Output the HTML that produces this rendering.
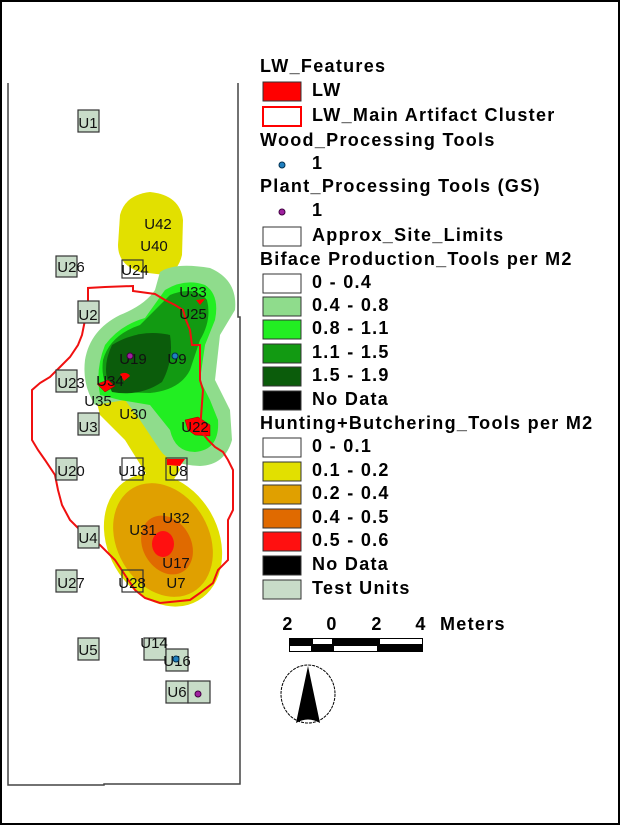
<!DOCTYPE html>
<html><head><meta charset="utf-8"><style>
html,body{margin:0;padding:0;background:#fff}
svg{display:block}
text{font-family:"Liberation Sans",Arial,sans-serif}
.lg{font-size:18px;font-weight:bold;fill:#000;letter-spacing:1.3px}
.u{font-size:15px;fill:#111}
</style></head><body>
<svg width="620" height="825" viewBox="0 0 620 825" xmlns="http://www.w3.org/2000/svg">
<rect x="1" y="1" width="618" height="823" fill="#fff" stroke="#000" stroke-width="2"/>
<path d="M8 83 V785 H104 V784 H240 V317 H238 V83" fill="none" stroke="#444" stroke-width="1.5"/>

<path d="M95 395 Q110 380 135 390 L160 430 L180 470 L170 485 L150 480 L125 440 L100 415 Z" fill="#e2e000"/>
<path d="M120 215 Q125 195 150 192 Q180 195 183 220 L182 255 Q178 272 165 275 L140 272 Q118 265 118 245 Z" fill="#e2e000"/>
<path d="M160 272 Q175 262 210 268 Q238 280 235 310 L220 335 L215 380 L230 410 L232 440 Q225 465 200 466 Q170 465 160 450 L140 420 L125 400 L95 405 Q82 385 85 360 Q90 330 120 315 Q145 305 155 290 Z" fill="#8fdc8c"/>
<path d="M165 290 Q185 278 205 285 Q220 295 215 320 L205 345 L200 380 L210 400 L218 420 Q220 450 195 452 Q175 452 170 430 L150 405 L120 400 L100 395 Q95 370 105 345 Q120 325 145 318 Z" fill="#22ee22"/>
<path d="M170 295 Q195 285 207 300 Q212 320 200 340 L190 370 Q180 390 150 393 L115 392 Q100 385 103 360 Q110 335 140 325 Z" fill="#129a12"/>
<path d="M178 420 Q195 408 208 420 L210 440 L185 445 Z" fill="#22ee22"/>
<path d="M112 345 Q140 328 170 335 Q174 360 162 382 Q140 397 112 392 Q100 370 112 345 Z" fill="#0b5c0b"/>

<ellipse cx="163" cy="540" rx="55" ry="70" transform="rotate(-30 163 540)" fill="#e2e000"/>
<ellipse cx="163" cy="540" rx="46" ry="60" transform="rotate(-30 163 540)" fill="#e0a000"/>
<ellipse cx="167" cy="545" rx="24" ry="31" transform="rotate(-30 167 545)" fill="#e06a00"/>
<ellipse cx="163" cy="544" rx="11" ry="13" fill="#ff1010"/>

<path d="M97 384 L108 380 L115 386 L105 392 Z" fill="#f00" stroke="#900" stroke-width=".5"/>
<path d="M120 374 Q127 371 130 376 L124 381 Z" fill="#f00"/>
<path d="M185 420 L198 417 L210 425 L210 436 L195 435 L188 430 Z" fill="#f00" stroke="#900" stroke-width=".5"/>
<path d="M196 300 L205 299 L200 305 Z" fill="#f00"/>
<path d="M58 460 L70 461 L78 468 L65 470 Z" fill="#f00"/>
<path d="M167 459 L185 459 L180 466 L167 465 Z" fill="#f00"/>

<path d="M88 293 L88 288 L105 287 L133 286 L133 291 L155 294 L165 300 L175 305 L183 310 L186 320 L190 330 L192 345 L200 345 L200 380 L203 390 L200 430 L208 440 L215 447 L223 452 L228 460 L233 470 L233 510 L228 520 L228 560 L218 570 L213 583 L200 593 L190 600 L160 603 L145 598 L135 590 L125 575 L115 560 L100 545 L90 538 L80 530 L70 520 L62 505 L58 490 L55 475 L45 460 L38 450 L32 440 L32 390 L40 383 L50 377 L60 367 L70 357 L78 345 L82 335 L85 320 L88 310 Z" fill="none" stroke="#f01010" stroke-width="2"/>

<g fill="#c8dcc8" stroke="#333" stroke-width="1.2">
<rect x="78" y="110" width="21" height="22"/>
<rect x="56" y="256" width="21" height="21"/>
<rect x="122" y="260" width="21" height="18" fill="none"/>
<rect x="78" y="301" width="21" height="22"/>
<rect x="56" y="370" width="21" height="22"/>
<rect x="78" y="413" width="21" height="22"/>
<rect x="56" y="458" width="21" height="22"/>
<rect x="122" y="458" width="21" height="22" fill="none"/>
<rect x="166" y="458" width="21" height="22" fill="none"/>
<rect x="78" y="526" width="21" height="22"/>
<rect x="56" y="570" width="21" height="22"/>
<rect x="122" y="570" width="21" height="22" fill="none"/>
<rect x="78" y="638" width="21" height="22"/>
<rect x="144" y="638" width="22" height="22"/>
<rect x="166" y="649" width="22" height="22"/>
<rect x="166" y="681" width="22" height="22"/>
<rect x="188" y="681" width="22" height="22"/>
</g>
<g class="u" text-anchor="middle">
<text x="88" y="128">U1</text>
<text x="71" y="272">U26</text>
<text x="135" y="275">U24</text>
<text x="88" y="320">U2</text>
<text x="71" y="388">U23</text>
<text x="88" y="432">U3</text>
<text x="71" y="476">U20</text>
<text x="132" y="476">U18</text>
<text x="178" y="476">U8</text>
<text x="88" y="543">U4</text>
<text x="71" y="588">U27</text>
<text x="132" y="588">U28</text>
<text x="88" y="655">U5</text>
<text x="154" y="648">U14</text>
<text x="177" y="666">U16</text>
<text x="177" y="697">U6</text>
<text x="158" y="229">U42</text>
<text x="154" y="251">U40</text>
<text x="193" y="297">U33</text>
<text x="193" y="319">U25</text>
<text x="133" y="364">U19</text>
<text x="177" y="364">U9</text>
<text x="110" y="386">U34</text>
<text x="98" y="406">U35</text>
<text x="133" y="419">U30</text>
<text x="195" y="432">U22</text>
<text x="143" y="535">U31</text>
<text x="176" y="523">U32</text>
<text x="176" y="568">U17</text>
<text x="176" y="588">U7</text>
</g>
<circle cx="130" cy="356" r="3" fill="#a020a0" stroke="#400040"/>
<circle cx="175" cy="356" r="3" fill="#2080c0" stroke="#003050"/>
<circle cx="176" cy="659" r="3" fill="#2080c0" stroke="#003050"/>
<circle cx="198" cy="694" r="3" fill="#a020a0" stroke="#400040"/>

<g class="lg">
<text x="260" y="72">LW_Features</text>
<text x="312" y="96">LW</text>
<text x="312" y="121">LW_Main Artifact Cluster</text>
<text x="260" y="146">Wood_Processing Tools</text>
<text x="312" y="169">1</text>
<text x="260" y="192">Plant_Processing Tools (GS)</text>
<text x="312" y="216">1</text>
<text x="312" y="241">Approx_Site_Limits</text>
<text x="260" y="265">Biface Production_Tools per M2</text>
<text x="312" y="288">0 - 0.4</text>
<text x="312" y="311">0.4 - 0.8</text>
<text x="312" y="334">0.8 - 1.1</text>
<text x="312" y="358">1.1 - 1.5</text>
<text x="312" y="381">1.5 - 1.9</text>
<text x="312" y="405">No Data</text>
<text x="260" y="429">Hunting+Butchering_Tools per M2</text>
<text x="312" y="452">0 - 0.1</text>
<text x="312" y="476">0.1 - 0.2</text>
<text x="312" y="499">0.2 - 0.4</text>
<text x="312" y="523">0.4 - 0.5</text>
<text x="312" y="546">0.5 - 0.6</text>
<text x="312" y="570">No Data</text>
<text x="312" y="594">Test Units</text>
</g>
<g stroke="#333" stroke-width="1">
<rect x="263" y="82" width="38" height="19" fill="#f00"/>
<rect x="263" y="107" width="38" height="19" fill="#fff" stroke="#f00" stroke-width="2"/>
<rect x="263" y="227" width="38" height="19" fill="#fff"/>
<rect x="263" y="274" width="38" height="19" fill="#fff"/>
<rect x="263" y="297" width="38" height="19" fill="#8fdc8c"/>
<rect x="263" y="320" width="38" height="19" fill="#22ee22"/>
<rect x="263" y="344" width="38" height="19" fill="#129a12"/>
<rect x="263" y="367" width="38" height="19" fill="#0b5c0b"/>
<rect x="263" y="391" width="38" height="19" fill="#000"/>
<rect x="263" y="438" width="38" height="19" fill="#fff"/>
<rect x="263" y="462" width="38" height="19" fill="#e2e000"/>
<rect x="263" y="485" width="38" height="19" fill="#e0a000"/>
<rect x="263" y="509" width="38" height="19" fill="#e06a00"/>
<rect x="263" y="532" width="38" height="19" fill="#ff1010"/>
<rect x="263" y="556" width="38" height="19" fill="#000"/>
<rect x="263" y="580" width="38" height="19" fill="#c8dcc8"/>
</g>
<circle cx="282" cy="165" r="3" fill="#2080c0" stroke="#003050"/>
<circle cx="282" cy="212" r="3" fill="#a020a0" stroke="#400040"/>

<g class="lg" text-anchor="middle">
<text x="288" y="630">2</text>
<text x="332" y="630">0</text>
<text x="377" y="630">2</text>
<text x="421" y="630">4</text>
</g>
<text class="lg" x="440" y="630">Meters</text>
<g>
<rect x="289" y="638" width="134" height="14" fill="#000"/>
<rect x="313" y="639" width="19" height="5" fill="#fff"/>
<rect x="380" y="639" width="42" height="5" fill="#fff"/>
<rect x="290" y="646" width="21" height="5" fill="#fff"/>
<rect x="334" y="646" width="43" height="5" fill="#fff"/>
</g>
<ellipse cx="308" cy="694" rx="27" ry="29" fill="none" stroke="#000" stroke-dasharray="3 1"/>
<path d="M308 666 L296 723 Q308 716 320 723 Z" fill="#000"/>
</svg>
</body></html>
